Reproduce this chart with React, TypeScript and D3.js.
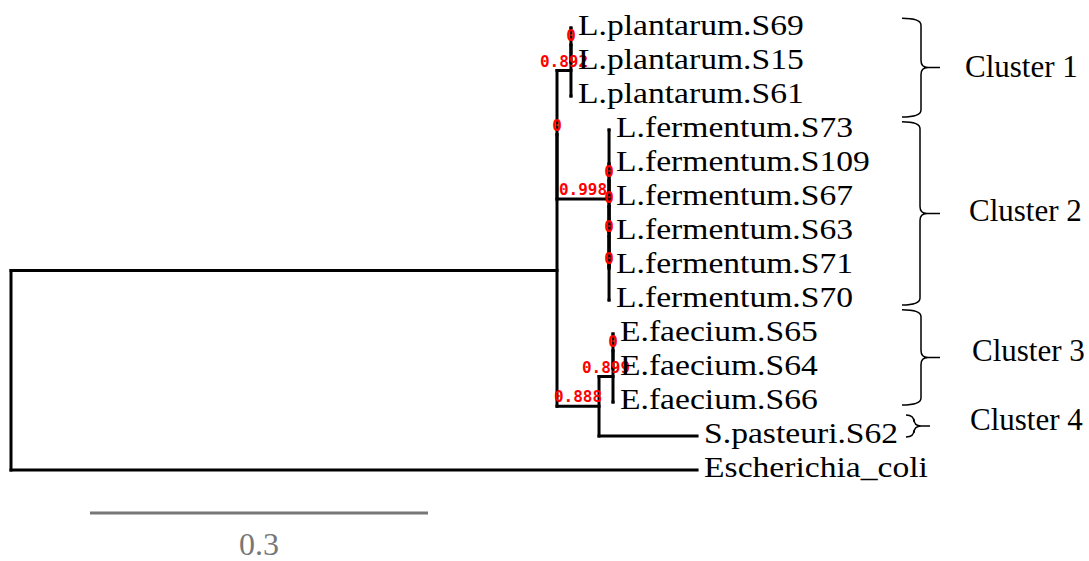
import React, { useEffect, useRef } from 'react';
import * as d3 from 'd3';

// Tree topology with branch lengths; internal node names are support values
const newick =
  '((((((L.plantarum.S69:0,L.plantarum.S15:0)0:0,L.plantarum.S61:0)0.892:0.0124,' +
  '(L.fermentum.S73:0,((((L.fermentum.S109:0,L.fermentum.S67:0)0:0,L.fermentum.S63:0)0:0,' +
  'L.fermentum.S71:0)0:0,L.fermentum.S70:0)0:0)0.998:0.0462)0:0,' +
  '(((E.faecium.S65:0,E.faecium.S64:0)0:0,E.faecium.S66:0)0.899:0.0124,S.pasteuri.S62:0.087)0.888:0.0373):0.4846,' +
  'Escherichia_coli:0.6089);';

// Cluster annotations: names and leaf-index spans covered by each brace
const clusterNames = ['Cluster 1', 'Cluster 2', 'Cluster 3', 'Cluster 4'];
const clusterStart = [-0.29, 2.76, 8.29, 11.38];
const clusterEnd = [2.62, 8.15, 11.09, 12.03];

const scaleBarValue = 0.3;
const scaleBarLabel = '0.3';

// layout constants
const W = 1089;
const H = 561;
const rootX = 11;
const pxPerUnit = 1126.7;
const firstLeafY = 28;
const leafStep = 34;
const braceLayout = [
  { x0: 902, xv: 921, xt: 940, lx: 965, dy: 9 },
  { x0: 902, xv: 920, xt: 940, lx: 969, dy: 8 },
  { x0: 902, xv: 921, xt: 940, lx: 972, dy: 4 },
  { x0: 906, xv: 914, xt: 930, lx: 970, dy: 4 },
];

function parseNewick(s: string) {
  const tokens = s.split(/\s*(;|\(|\)|,|:)\s*/);
  const ancestors: any[] = [];
  let tree: any = {};
  for (let i = 0; i < tokens.length; i++) {
    const t = tokens[i];
    switch (t) {
      case '(': {
        const sub = {};
        tree.children = [sub];
        ancestors.push(tree);
        tree = sub;
        break;
      }
      case ',': {
        const sub = {};
        ancestors[ancestors.length - 1].children.push(sub);
        tree = sub;
        break;
      }
      case ')':
        tree = ancestors.pop();
        break;
      case ':':
      case ';':
        break;
      default: {
        const prev = tokens[i - 1];
        if (prev === ')' || prev === '(' || prev === ',') tree.name = t;
        else if (prev === ':') tree.length = parseFloat(t);
      }
    }
  }
  return tree;
}

function bracePath(x0: number, xv: number, xt: number, y0: number, y1: number) {
  const ym = (y0 + y1) / 2;
  const r = 7;
  return [
    `M${x0},${y0}`,
    `Q${xv},${y0} ${xv},${y0 + r}`,
    `L${xv},${ym - r}`,
    `Q${xv},${ym} ${xv + r},${ym}`,
    `L${xt},${ym}`,
    `M${xv + r},${ym}`,
    `Q${xv},${ym} ${xv},${ym + r}`,
    `L${xv},${y1 - r}`,
    `Q${xv},${y1} ${x0},${y1}`,
  ].join(' ');
}

const App = () => {
  const svgRef = useRef<SVGSVGElement>(null);

  useEffect(() => {
    if (!svgRef.current) return;
    const svg = d3.select(svgRef.current);
    svg.selectAll('*').remove();

    const root: any = d3.hierarchy(parseNewick(newick));
    const leaves = root.leaves();

    const xScale = d3.scaleLinear().domain([0, 1]).range([rootX, rootX + pxPerUnit]);
    const yScale = d3.scaleLinear()
      .domain([0, leaves.length - 1])
      .range([firstLeafY, firstLeafY + leafStep * (leaves.length - 1)]);

    // cumulative distance from root
    root.eachBefore((n: any) => {
      n.dist = n.parent ? n.parent.dist + (n.data.length || 0) : 0;
    });
    leaves.forEach((l: any, i: number) => { l.yPos = yScale(i); });
    root.eachAfter((n: any) => {
      if (n.children) {
        n.yPos = (n.children[0].yPos + n.children[n.children.length - 1].yPos) / 2;
      }
    });

    const g = svg.append('g');
    const nodes = root.descendants();

    // horizontal branches
    g.selectAll('line.h')
      .data(nodes.filter((n: any) => n.parent))
      .enter()
      .append('line')
      .attr('x1', (d: any) => xScale(d.parent.dist))
      .attr('x2', (d: any) => xScale(d.dist))
      .attr('y1', (d: any) => d.yPos)
      .attr('y2', (d: any) => d.yPos)
      .attr('stroke', '#000')
      .attr('stroke-width', 3)
      .attr('stroke-linecap', 'square');

    // vertical connectors
    g.selectAll('line.v')
      .data(nodes.filter((n: any) => n.children))
      .enter()
      .append('line')
      .attr('x1', (d: any) => xScale(d.dist))
      .attr('x2', (d: any) => xScale(d.dist))
      .attr('y1', (d: any) => d.children[0].yPos)
      .attr('y2', (d: any) => d.children[d.children.length - 1].yPos)
      .attr('stroke', '#000')
      .attr('stroke-width', 3)
      .attr('stroke-linecap', 'square');

    // support values
    g.selectAll('text.support')
      .data(nodes.filter((n: any) => n.children && n.parent && n.data.name))
      .enter()
      .append('text')
      .attr('x', (d: any) => (xScale(d.parent.dist) + xScale(d.dist)) / 2)
      .attr('y', (d: any) => d.yPos - 4)
      .attr('text-anchor', 'middle')
      .style('font-family', '"DejaVu Sans Mono", monospace')
      .style('font-weight', 'bold')
      .style('font-size', '16px')
      .style('letter-spacing', '0px')
      .attr('fill', '#ff0000')
      .text((d: any) => d.data.name);

    // leaf labels
    g.selectAll('text.leaf')
      .data(leaves)
      .enter()
      .append('text')
      .attr('transform', (d: any) => `translate(${xScale(d.dist) + 7}, ${d.yPos + 7}) scale(1.12, 1)`)
      .style('font-family', '"Liberation Serif", "Times New Roman", serif')
      .style('font-size', '30px')
      .attr('fill', '#000')
      .text((d: any) => d.data.name);

    // cluster braces
    clusterNames.forEach((name, i) => {
      const b = braceLayout[i];
      const y0 = yScale(clusterStart[i]);
      const y1 = yScale(clusterEnd[i]);
      g.append('path')
        .attr('d', bracePath(b.x0, b.xv, b.xt, y0, y1))
        .attr('fill', 'none')
        .attr('stroke', '#000')
        .attr('stroke-width', 1.5);
      g.append('text')
        .attr('x', b.lx)
        .attr('y', (y0 + y1) / 2 + b.dy)
        .style('font-family', '"Liberation Serif", "Times New Roman", serif')
        .style('font-size', '31px')
        .attr('fill', '#000')
        .text(name);
    });

    // scale bar
    const barX = 90;
    const barY = 513;
    const barLen = xScale(scaleBarValue) - xScale(0);
    g.append('line')
      .attr('x1', barX)
      .attr('x2', barX + barLen)
      .attr('y1', barY)
      .attr('y2', barY)
      .attr('stroke', '#777')
      .attr('stroke-width', 3);
    g.append('text')
      .attr('x', barX + barLen / 2)
      .attr('y', barY + 42)
      .attr('text-anchor', 'middle')
      .style('font-family', '"Liberation Serif", "Times New Roman", serif')
      .style('font-size', '32px')
      .attr('fill', '#777')
      .text(scaleBarLabel);
  }, []);

  return (
    <svg
      ref={svgRef}
      width={W}
      height={H}
      style={{ position: 'absolute', left: 0, top: 0, background: '#fff' }}
    />
  );
};

export default App;
